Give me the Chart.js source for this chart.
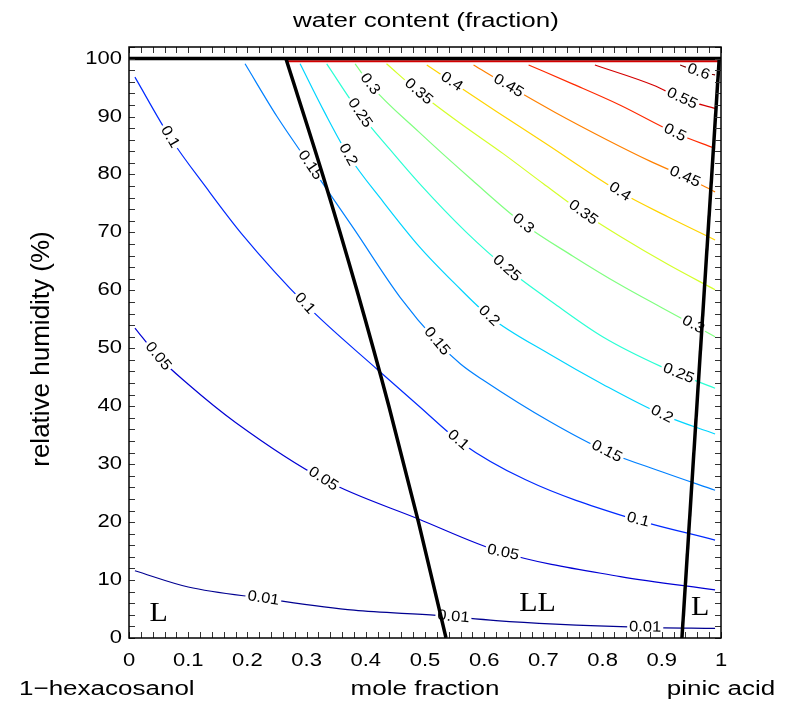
<!DOCTYPE html>
<html lang="en">
<head>
<meta charset="UTF-8">
<title>water content</title>
<script src="https://cdn.jsdelivr.net/npm/chart.js@4.4.1/dist/chart.umd.min.js"></script>
<style>
  html, body { margin: 0; padding: 0; background: #fff; }
</style>
</head>
<body>
<canvas id="myChart" width="788" height="702"></canvas>
<script>
// contour levels (water content fraction)
const levels = ['0.01', '0.05', '0.1', '0.15', '0.2', '0.25', '0.3', '0.35', '0.4', '0.45', '0.5', '0.55', '0.6'];

// contour lines, [mole fraction, RH %]
const w001 = [[0.01, 11.6], [0.1, 8.8], [0.23, 6.8], [0.38, 4.8], [0.52, 3.9], [0.62, 3.0], [0.72, 2.4], [0.87, 1.85], [0.99, 1.65]];
const w005 = [[0.01, 53.5], [0.05, 48.5], [0.1, 43.8], [0.18, 37.2], [0.33, 27.3], [0.49, 20.5], [0.63, 14.8], [0.83, 10.6], [0.99, 8.3]];
const w010 = [[0.01, 96.8], [0.07, 86.3], [0.13, 77.8], [0.19, 69.8], [0.3, 57.4], [0.42, 46.3], [0.49, 40.0], [0.56, 33.8], [0.67, 27.3], [0.84, 20.9], [0.99, 16.9]];
const w015 = [[0.196, 99.1], [0.25, 90.0], [0.306, 81.6], [0.38, 70.6], [0.458, 58.8], [0.52, 51.2], [0.56, 47.3], [0.6, 44.4], [0.71, 37.4], [0.807, 32.2], [0.9, 28.7], [0.99, 25.5]];
const w020 = [[0.289, 99.1], [0.33, 90.8], [0.37, 83.4], [0.43, 75.2], [0.49, 67.6], [0.55, 61.2], [0.61, 55.4], [0.71, 49.0], [0.8, 43.8], [0.9, 38.6], [0.99, 35.2]];
const w025 = [[0.334, 99.1], [0.39, 90.6], [0.44, 84.4], [0.49, 78.5], [0.57, 70.0], [0.638, 63.8], [0.72, 57.6], [0.8, 52.0], [0.9, 46.8], [0.99, 43.1]];
const w030 = [[0.382, 99.1], [0.41, 95.2], [0.49, 87.3], [0.58, 79.0], [0.666, 71.5], [0.75, 65.9], [0.829, 61.0], [0.9, 57.0], [0.99, 52.0]];
const w035 = [[0.435, 99.1], [0.49, 94.2], [0.56, 88.8], [0.632, 83.6], [0.7, 78.4], [0.767, 73.4], [0.83, 69.3], [0.91, 64.5], [0.99, 60.1]];
const w040 = [[0.503, 98.9], [0.545, 96.0], [0.62, 90.9], [0.7, 85.6], [0.829, 77.0], [0.91, 72.7], [0.99, 68.7]];
const w045 = [[0.582, 98.9], [0.641, 95.3], [0.72, 90.7], [0.807, 86.0], [0.88, 82.3], [0.939, 79.6], [0.99, 77.0]];
const w050 = [[0.675, 98.9], [0.75, 95.6], [0.829, 92.0], [0.922, 87.2], [0.99, 84.5]];
const w055 = [[0.787, 98.9], [0.886, 95.4], [0.934, 93.1], [0.99, 91.4]];
const w060 = [[0.931, 98.9], [0.962, 97.7], [0.99, 97.2]];
const contours = [w001, w005, w010, w015, w020, w025, w030, w035, w040, w045, w050, w055, w060];

// where the inline labels sit along each contour (mole fraction)
const labelAt = [
  [0.227, 0.548, 0.872],
  [0.049, 0.328, 0.632],
  [0.069, 0.297, 0.556, 0.86],
  [0.306, 0.52, 0.807],
  [0.37, 0.608, 0.9],
  [0.39, 0.638, 0.928],
  [0.407, 0.666, 0.953],
  [0.489, 0.767],
  [0.545, 0.829],
  [0.641, 0.939],
  [0.922],
  [0.934],
  [0.962]
];

// phase boundaries
const topEdge = [[0, 100], [1, 100]];
const leftBoundary = [[0.265, 100], [0.327, 80], [0.385, 60], [0.439, 40], [0.489, 20], [0.5355, 0]];
const rightBoundary = [[0.997, 100], [0.934, 0]];
const saturation = [[0.265, 99.55], [0.997, 99.55]];

// regions
const regionNames = ['L', 'LL', 'L'];
const regionX = [0.05, 0.69, 0.965];
const regionY = [4.2, 5.9, 5.2];

const xTicks = [0, 0.1, 0.2, 0.3, 0.4, 0.5, 0.6, 0.7, 0.8, 0.9, 1];
const xTickText = ['0', '0.1', '0.2', '0.3', '0.4', '0.5', '0.6', '0.7', '0.8', '0.9', '1'];
const yTicks = [0, 10, 20, 30, 40, 50, 60, 70, 80, 90, 100];

const lineColors = ['#000091', '#0000d4', '#002aff', '#0080ff', '#00d4ff', '#2affd4', '#80ff80',
  '#d4ff2a', '#ffd400', '#ff8000', '#ff2a00', '#d40000', '#800000'];

const SANS = '"Liberation Sans", Arial, Helvetica, sans-serif';
const SERIF = '"Liberation Serif", "Times New Roman", serif';

function pts(arr) {
  return arr.map(p => ({ x: p[0], y: p[1] }));
}

function blackLine(arr) {
  return { data: pts(arr), borderColor: '#000', borderWidth: 3.5, pointRadius: 0,
    cubicInterpolationMode: 'monotone', borderCapStyle: 'butt', borderJoinStyle: 'round' };
}

const datasets = [
  blackLine(topEdge),
  blackLine(leftBoundary),
  blackLine(rightBoundary),
  { data: pts(saturation), borderColor: '#d40000', borderWidth: 2, pointRadius: 0, tension: 0 }
];
const FIRST_CONTOUR = datasets.length;
contours.forEach((c, i) => {
  datasets.push({
    label: levels[i],
    data: pts(c),
    borderColor: lineColors[i],
    borderWidth: 1.2,
    pointRadius: 0,
    cubicInterpolationMode: 'monotone'
  });
});

function stretchedText(ctx, s, x, y, o) {
  ctx.save();
  ctx.translate(x, y);
  if (o.rot) ctx.rotate(o.rot);
  ctx.scale(o.sx || 1, o.sy || 1);
  ctx.font = o.font;
  ctx.textAlign = o.align || 'center';
  ctx.textBaseline = o.base || 'middle';
  ctx.fillStyle = '#000';
  ctx.fillText(s, 0, 0);
  ctx.restore();
}

function drawContourLabels(chart) {
  const ctx = chart.ctx;
  const xs = chart.scales.x, ys = chart.scales.y;
  const font = '15px ' + SANS;
  const sx = 1.1;
  contours.forEach((c, i) => {
    labelAt[i].forEach(lx => {
      let j = 0;
      while (j < c.length - 2 && c[j + 1][0] < lx) j++;
      const a = c[j], b = c[j + 1];
      const t = (lx - a[0]) / (b[0] - a[0]);
      const ly = a[1] + t * (b[1] - a[1]);
      const px = xs.getPixelForValue(lx), py = ys.getPixelForValue(ly);
      const ang = Math.atan2(ys.getPixelForValue(b[1]) - ys.getPixelForValue(a[1]),
        xs.getPixelForValue(b[0]) - xs.getPixelForValue(a[0]));
      ctx.save();
      ctx.translate(px, py);
      ctx.rotate(ang);
      ctx.font = font;
      const w = ctx.measureText(levels[i]).width * sx;
      ctx.fillStyle = '#fff';
      ctx.fillRect(-w / 2 - 2, -7, w + 4, 14);
      ctx.scale(sx, 1);
      ctx.fillStyle = '#000';
      ctx.textAlign = 'center';
      ctx.textBaseline = 'middle';
      ctx.fillText(levels[i], 0, 0);
      ctx.restore();
    });
  });
}

const decor = {
  id: 'decor',
  afterDatasetDraw(chart, args) {
    if (args.index === FIRST_CONTOUR) drawContourLabels(chart);
  },
  afterDraw(chart) {
    const ctx = chart.ctx;
    const a = chart.chartArea;
    const xs = chart.scales.x, ys = chart.scales.y;

    // inward ticks on all four sides
    ctx.save();
    ctx.strokeStyle = '#333';
    ctx.lineWidth = 1;
    ctx.beginPath();
    for (let k = 0; k <= 50; k++) {
      const px = Math.round(xs.getPixelForValue(k / 50)) + 0.5;
      ctx.moveTo(px, a.bottom); ctx.lineTo(px, a.bottom - 6);
      ctx.moveTo(px, a.top); ctx.lineTo(px, a.top + 6);
    }
    for (let k = 0; k <= 102; k += 2) {
      const py = Math.round(ys.getPixelForValue(k)) + 0.5;
      ctx.moveTo(a.left, py); ctx.lineTo(a.left + 6, py);
      ctx.moveTo(a.right, py); ctx.lineTo(a.right - 6, py);
    }
    ctx.stroke();
    ctx.lineWidth = 1.5;
    ctx.strokeStyle = '#000';
    ctx.strokeRect(a.left, a.top, a.right - a.left, a.bottom - a.top);
    ctx.restore();

    // tick labels
    const tf = '22px ' + SANS;
    xTicks.forEach((v, k) => {
      stretchedText(ctx, xTickText[k], xs.getPixelForValue(v), 661, { font: tf, sy: 0.82 });
    });
    yTicks.forEach(v => {
      stretchedText(ctx, String(v), 122, ys.getPixelForValue(v), { font: tf, sy: 0.82, align: 'right' });
    });

    // titles
    const lf = '26px ' + SANS;
    stretchedText(ctx, 'water content (fraction)', 426, 21, { font: lf, sy: 0.8 });
    stretchedText(ctx, 'mole fraction', 425, 689, { font: lf, sy: 0.8 });
    stretchedText(ctx, '1\u2212hexacosanol', 19, 689, { font: lf, sy: 0.8, align: 'left' });
    stretchedText(ctx, 'pinic acid', 721, 689, { font: lf, sy: 0.8 });
    stretchedText(ctx, 'relative humidity (%)', 42, 349, { font: '26px ' + SANS, rot: -Math.PI / 2 });

    // phase region names
    regionNames.forEach((s, k) => {
      stretchedText(ctx, s, xs.getPixelForValue(regionX[k]), ys.getPixelForValue(regionY[k]),
        { font: '30px ' + SERIF, sy: 0.9 });
    });
  }
};

new Chart(document.getElementById('myChart').getContext('2d'), {
  type: 'line',
  data: { datasets: datasets },
  options: {
    responsive: false,
    animation: false,
    devicePixelRatio: 1,
    layout: { padding: { left: 129, right: 67, top: 47, bottom: 64 } },
    plugins: { legend: { display: false }, tooltip: { enabled: false }, title: { display: false } },
    scales: {
      x: { type: 'linear', min: 0, max: 1, display: false },
      y: { type: 'linear', min: 0, max: 102, display: false }
    }
  },
  plugins: [decor]
});
</script>
</body>
</html>
